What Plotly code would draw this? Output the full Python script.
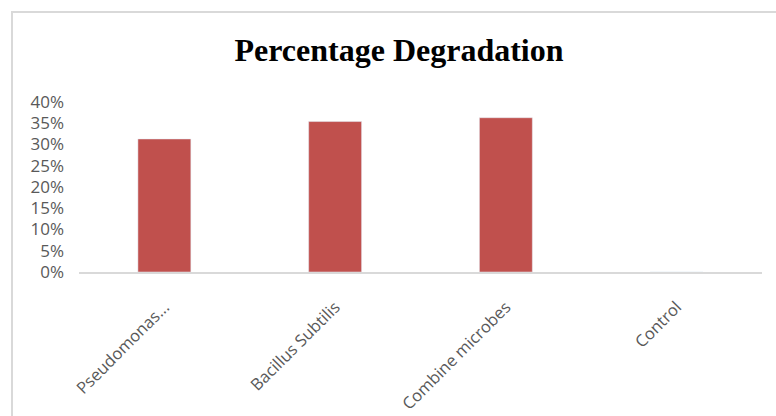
import plotly.graph_objects as go

categories = ["Pseudomonas...", "Bacillus Subtilis", "Combine microbes", "Control"]
degradation = [0.313, 0.354, 0.363, 0.0]
y_ticks = [0, 0.05, 0.10, 0.15, 0.20, 0.25, 0.30, 0.35, 0.40]

W, H = 776, 416
L, R, T, B = 79, 14, 102, 144
pw, ph = W - L - R, H - T - B

def px_x(x):
    return (x - L) / pw

def px_y(y):
    return (H - B - y) / ph

fig = go.Figure(
    go.Bar(
        x=categories,
        y=degradation,
        marker_color="#C0504D",
        width=0.31,
    )
)

fig.update_layout(
    width=W,
    height=H,
    margin=dict(l=L, r=R, t=T, b=B, autoexpand=False),
    paper_bgcolor="white",
    plot_bgcolor="white",
    showlegend=False,
    title=dict(
        text="<b>Percentage Degradation</b>",
        x=399 / W,
        xanchor="center",
        y=1 - 50 / H,
        yanchor="middle",
        font=dict(family="Liberation Serif", size=32, color="black"),
    ),
    font=dict(family="Open Sans", size=16, color="#595959"),
    shapes=[
        dict(type="line", xref="paper", yref="paper",
             x0=px_x(12), x1=px_x(12), y0=px_y(11), y1=px_y(420),
             line=dict(color="#d9d9d9", width=2)),
        dict(type="line", xref="paper", yref="paper",
             x0=px_x(11), x1=px_x(780), y0=px_y(12), y1=px_y(12),
             line=dict(color="#d9d9d9", width=2)),
    ],
)

fig.update_xaxes(
    showgrid=False,
    showline=True,
    linecolor="#d9d9d9",
    linewidth=2,
    tickangle=-45,
    ticks="",
    ticklabelstandoff=17,
    tickfont=dict(family="Open Sans", size=16.5, color="#595959"),
)
fig.update_yaxes(
    range=[0, 0.40],
    tickvals=y_ticks,
    tickformat=".0%",
    showgrid=False,
    showline=False,
    zeroline=False,
    ticks="",
    ticklabelstandoff=14,
    tickfont=dict(family="Open Sans", size=17, color="#595959"),
)

fig.write_html("out.html")
